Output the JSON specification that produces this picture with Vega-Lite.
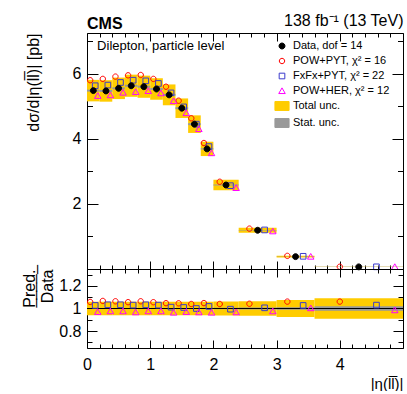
{
"$schema": "https://vega.github.io/schema/vega-lite/v6.json",
"padding": {"left": 21, "top": 12, "right": 0, "bottom": 0},
"config": {
  "font": "Liberation Sans",
  "view": {"stroke": null},
  "axis": {"domainColor": "black", "tickColor": "black", "labelColor": "black", "titleColor": "black", "grid": false, "labelFont": "Liberation Sans", "titleFont": "Liberation Sans", "labelFontSize": 16, "titleFontSize": 16, "titleFontWeight": "normal", "domainWidth": 1, "tickWidth": 1, "labelFlush": false, "labelOverlap": false},
  "legend": {"orient": "none", "legendX": 187, "legendY": 5, "padding": 0, "labelFont": "Liberation Sans", "labelFontSize": 11, "labelColor": "black", "rowPadding": 2, "labelOffset": 3, "symbolStrokeWidth": 1, "symbolSize": 200},
  "title": {"font": "Liberation Sans", "color": "black"}
},
"datasets": {
  "bins": [
    {"lo": 0, "hi": 0.2, "tlo": 5.15, "thi": 5.81, "slo": 5.45, "shi": 5.51, "rtlo": 0.94, "rthi": 1.06, "rslo": 0.995, "rshi": 1.005},
    {"lo": 0.2, "hi": 0.4, "tlo": 5.14, "thi": 5.8, "slo": 5.44, "shi": 5.5, "rtlo": 0.94, "rthi": 1.06, "rslo": 0.995, "rshi": 1.005},
    {"lo": 0.4, "hi": 0.6, "tlo": 5.22, "thi": 5.88, "slo": 5.52, "shi": 5.58, "rtlo": 0.94, "rthi": 1.06, "rslo": 0.995, "rshi": 1.005},
    {"lo": 0.6, "hi": 0.8, "tlo": 5.29, "thi": 5.97, "slo": 5.6, "shi": 5.66, "rtlo": 0.94, "rthi": 1.06, "rslo": 0.995, "rshi": 1.005},
    {"lo": 0.8, "hi": 1.0, "tlo": 5.26, "thi": 5.94, "slo": 5.57, "shi": 5.63, "rtlo": 0.94, "rthi": 1.06, "rslo": 0.995, "rshi": 1.005},
    {"lo": 1.0, "hi": 1.2, "tlo": 5.2, "thi": 5.86, "slo": 5.5, "shi": 5.56, "rtlo": 0.94, "rthi": 1.06, "rslo": 0.995, "rshi": 1.005},
    {"lo": 1.2, "hi": 1.4, "tlo": 5.03, "thi": 5.67, "slo": 5.32, "shi": 5.38, "rtlo": 0.94, "rthi": 1.06, "rslo": 0.995, "rshi": 1.005},
    {"lo": 1.4, "hi": 1.6, "tlo": 4.64, "thi": 5.24, "slo": 4.91, "shi": 4.97, "rtlo": 0.94, "rthi": 1.06, "rslo": 0.995, "rshi": 1.005},
    {"lo": 1.6, "hi": 1.8, "tlo": 4.18, "thi": 4.72, "slo": 4.42, "shi": 4.48, "rtlo": 0.94, "rthi": 1.06, "rslo": 0.995, "rshi": 1.005},
    {"lo": 1.8, "hi": 2.0, "tlo": 3.47, "thi": 3.91, "slo": 3.67, "shi": 3.71, "rtlo": 0.94, "rthi": 1.06, "rslo": 0.995, "rshi": 1.005},
    {"lo": 2.0, "hi": 2.4, "tlo": 2.42, "thi": 2.74, "slo": 2.565, "shi": 2.595, "rtlo": 0.937, "rthi": 1.063, "rslo": 0.994, "rshi": 1.006},
    {"lo": 2.4, "hi": 3.0, "tlo": 1.11, "thi": 1.27, "slo": 1.18, "shi": 1.2, "rtlo": 0.935, "rthi": 1.065, "rslo": 0.992, "rshi": 1.008},
    {"lo": 3.0, "hi": 3.6, "tlo": 0.351, "thi": 0.409, "slo": 0.3755, "shi": 0.3845, "rtlo": 0.925, "rthi": 1.075, "rslo": 0.988, "rshi": 1.012},
    {"lo": 3.6, "hi": 5.0, "tlo": 0.059, "thi": 0.071, "slo": 0.0637, "shi": 0.0663, "rtlo": 0.91, "rthi": 1.09, "rslo": 0.98, "rshi": 1.02}
  ],
  "meas": [
    {"series": "Data, dof = 14", "x": 0.1, "y": 5.48},
    {"series": "Data, dof = 14", "x": 0.3, "y": 5.47},
    {"series": "Data, dof = 14", "x": 0.5, "y": 5.55},
    {"series": "Data, dof = 14", "x": 0.7, "y": 5.63},
    {"series": "Data, dof = 14", "x": 0.9, "y": 5.6},
    {"series": "Data, dof = 14", "x": 1.1, "y": 5.53},
    {"series": "Data, dof = 14", "x": 1.3, "y": 5.35},
    {"series": "Data, dof = 14", "x": 1.5, "y": 4.94},
    {"series": "Data, dof = 14", "x": 1.7, "y": 4.45},
    {"series": "Data, dof = 14", "x": 1.9, "y": 3.69},
    {"series": "Data, dof = 14", "x": 2.2, "y": 2.58},
    {"series": "Data, dof = 14", "x": 2.7, "y": 1.19},
    {"series": "Data, dof = 14", "x": 3.3, "y": 0.38},
    {"series": "Data, dof = 14", "x": 4.3, "y": 0.065}
  ],
  "pred": [
    {"series": "POW+PYT, χ² = 16", "x": 0.05, "y": 5.8, "r": 1.058},
    {"series": "POW+PYT, χ² = 16", "x": 0.25, "y": 5.84, "r": 1.067},
    {"series": "POW+PYT, χ² = 16", "x": 0.45, "y": 5.91, "r": 1.064},
    {"series": "POW+PYT, χ² = 16", "x": 0.65, "y": 5.95, "r": 1.056},
    {"series": "POW+PYT, χ² = 16", "x": 0.85, "y": 5.96, "r": 1.064},
    {"series": "POW+PYT, χ² = 16", "x": 1.05, "y": 5.84, "r": 1.056},
    {"series": "POW+PYT, χ² = 16", "x": 1.25, "y": 5.6, "r": 1.047},
    {"series": "POW+PYT, χ² = 16", "x": 1.45, "y": 5.17, "r": 1.046},
    {"series": "POW+PYT, χ² = 16", "x": 1.65, "y": 4.63, "r": 1.04},
    {"series": "POW+PYT, χ² = 16", "x": 1.85, "y": 3.87, "r": 1.048},
    {"series": "POW+PYT, χ² = 16", "x": 2.1, "y": 2.68, "r": 1.04},
    {"series": "POW+PYT, χ² = 16", "x": 2.57, "y": 1.24, "r": 1.042},
    {"series": "POW+PYT, χ² = 16", "x": 3.17, "y": 0.403, "r": 1.061},
    {"series": "POW+PYT, χ² = 16", "x": 4.0, "y": 0.069, "r": 1.061},
    {"series": "FxFx+PYT, χ² = 22", "x": 0.13, "y": 5.63, "r": 1.027},
    {"series": "FxFx+PYT, χ² = 22", "x": 0.33, "y": 5.65, "r": 1.033},
    {"series": "FxFx+PYT, χ² = 22", "x": 0.53, "y": 5.73, "r": 1.033},
    {"series": "FxFx+PYT, χ² = 22", "x": 0.73, "y": 5.8, "r": 1.03},
    {"series": "FxFx+PYT, χ² = 22", "x": 0.93, "y": 5.78, "r": 1.033},
    {"series": "FxFx+PYT, χ² = 22", "x": 1.13, "y": 5.7, "r": 1.03},
    {"series": "FxFx+PYT, χ² = 22", "x": 1.33, "y": 5.41, "r": 1.012},
    {"series": "FxFx+PYT, χ² = 22", "x": 1.53, "y": 4.98, "r": 1.009},
    {"series": "FxFx+PYT, χ² = 22", "x": 1.73, "y": 4.45, "r": 1.0},
    {"series": "FxFx+PYT, χ² = 22", "x": 1.93, "y": 3.76, "r": 1.018},
    {"series": "FxFx+PYT, χ² = 22", "x": 2.27, "y": 2.56, "r": 0.994},
    {"series": "FxFx+PYT, χ² = 22", "x": 2.81, "y": 1.2, "r": 1.006},
    {"series": "FxFx+PYT, χ² = 22", "x": 3.42, "y": 0.39, "r": 1.027},
    {"series": "FxFx+PYT, χ² = 22", "x": 4.58, "y": 0.067, "r": 1.03},
    {"series": "POW+HER, χ² = 12", "x": 0.17, "y": 5.32, "r": 0.97},
    {"series": "POW+HER, χ² = 12", "x": 0.37, "y": 5.34, "r": 0.976},
    {"series": "POW+HER, χ² = 12", "x": 0.57, "y": 5.42, "r": 0.976},
    {"series": "POW+HER, χ² = 12", "x": 0.77, "y": 5.44, "r": 0.967},
    {"series": "POW+HER, χ² = 12", "x": 0.97, "y": 5.47, "r": 0.976},
    {"series": "POW+HER, χ² = 12", "x": 1.17, "y": 5.4, "r": 0.976},
    {"series": "POW+HER, χ² = 12", "x": 1.37, "y": 5.16, "r": 0.964},
    {"series": "POW+HER, χ² = 12", "x": 1.57, "y": 4.79, "r": 0.97},
    {"series": "POW+HER, χ² = 12", "x": 1.77, "y": 4.3, "r": 0.967},
    {"series": "POW+HER, χ² = 12", "x": 1.97, "y": 3.56, "r": 0.964},
    {"series": "POW+HER, χ² = 12", "x": 2.36, "y": 2.49, "r": 0.967},
    {"series": "POW+HER, χ² = 12", "x": 2.94, "y": 1.16, "r": 0.976},
    {"series": "POW+HER, χ² = 12", "x": 3.54, "y": 0.381, "r": 1.003},
    {"series": "POW+HER, χ² = 12", "x": 4.87, "y": 0.064, "r": 0.985}
  ],
  "notes": [{"t": "Dilepton, particle level", "x": 0.16, "y": 6.85}]
},
"spacing": 0,
"bounds": "flush",
"resolve": {"scale": {"fill": "independent", "stroke": "independent", "shape": "independent"}, "legend": {"fill": "independent", "stroke": "independent", "shape": "independent"}},
"vconcat": [
  {
    "width": 316,
    "height": 236,
    "title": {"text": "CMS", "anchor": "start", "frame": "group", "fontSize": 16, "fontWeight": "bold", "offset": 0, "dy": 19.5},
    "resolve": {"axis": {"x": "independent", "y": "independent"}},
    "layer": [
      {
        "data": {"name": "bins"},
        "mark": {"type": "rect"},
        "encoding": {
          "x": {"field": "lo", "type": "quantitative", "scale": {"domain": [0, 5], "nice": false, "zero": false},
                "axis": {"orient": "bottom", "values": [0,0.2,0.4,0.6,0.8,1,1.2,1.4,1.6,1.8,2,2.2,2.4,2.6,2.8,3,3.2,3.4,3.6,3.8,4,4.2,4.4,4.6,4.8,5], "labels": false, "title": null,
                         "tickSize": {"condition": {"test": "datum.value % 1 === 0", "value": -8}, "value": -4}}},
          "x2": {"field": "hi"},
          "y": {"field": "tlo", "type": "quantitative", "scale": {"domain": [0, 7.25], "nice": false, "zero": false},
                "axis": {"orient": "left", "values": [0,1,2,3,4,5,6,7], "labelExpr": "datum.value % 2 === 0 && datum.value > 0 ? format(datum.value, 'd') : ''",
                         "labelFontSize": {"condition": {"test": "datum.value % 2 === 0 && datum.value > 0", "value": 16}, "value": 0},
                         "tickSize": {"condition": {"test": "datum.value % 2 === 0", "value": -11}, "value": -5.5},
                         "labelPadding": 17, "title": "dσ/d|η(ll\u0305)| [pb]", "titleAnchor": "end", "titlePadding": 31}},
          "y2": {"field": "thi"},
          "fill": {"datum": "Total unc.", "type": "nominal", "title": null,
                   "scale": {"domain": ["Data, dof = 14", "POW+PYT, χ² = 16", "FxFx+PYT, χ² = 22", "POW+HER, χ² = 12", "Total unc.", "Stat. unc."],
                             "range": ["black", "transparent", "transparent", "transparent", "#ffcc00", "#999999"]}}
        }
      },
      {
        "data": {"name": "bins"},
        "mark": {"type": "rect"},
        "encoding": {
          "x": {"field": "lo", "type": "quantitative",
                "axis": {"orient": "top", "values": [0,0.2,0.4,0.6,0.8,1,1.2,1.4,1.6,1.8,2,2.2,2.4,2.6,2.8,3,3.2,3.4,3.6,3.8,4,4.2,4.4,4.6,4.8,5], "labels": false,
                         "title": "138 fb⁻¹ (13 TeV)", "titleAnchor": "end", "titlePadding": 4.5,
                         "tickSize": {"condition": {"test": "datum.value % 1 === 0", "value": -8}, "value": -4}}},
          "x2": {"field": "hi"},
          "y": {"field": "slo", "type": "quantitative",
                "axis": {"orient": "right", "values": [0,1,2,3,4,5,6,7], "labels": false, "title": null,
                         "tickSize": {"condition": {"test": "datum.value % 2 === 0", "value": -11}, "value": -5.5}}},
          "y2": {"field": "shi"},
          "fill": {"datum": "Stat. unc.", "type": "nominal", "title": null,
                   "scale": {"domain": ["Data, dof = 14", "POW+PYT, χ² = 16", "FxFx+PYT, χ² = 22", "POW+HER, χ² = 12", "Total unc.", "Stat. unc."],
                             "range": ["black", "transparent", "transparent", "transparent", "#ffcc00", "#999999"]}}
        }
      },
      {
        "data": {"name": "pred"},
        "mark": {"type": "point", "size": 200, "strokeWidth": 1, "opacity": 1},
        "encoding": {
          "x": {"field": "x", "type": "quantitative", "axis": null},
          "y": {"field": "y", "type": "quantitative", "axis": null},
          "fill": {"field": "series", "type": "nominal", "title": null,
                   "scale": {"domain": ["Data, dof = 14", "POW+PYT, χ² = 16", "FxFx+PYT, χ² = 22", "POW+HER, χ² = 12", "Total unc.", "Stat. unc."],
                             "range": ["black", "transparent", "transparent", "transparent", "#ffcc00", "#999999"]}},
          "stroke": {"field": "series", "type": "nominal", "title": null,
                   "scale": {"domain": ["Data, dof = 14", "POW+PYT, χ² = 16", "FxFx+PYT, χ² = 22", "POW+HER, χ² = 12", "Total unc.", "Stat. unc."],
                             "range": ["black", "#ff0000", "#3b3bcc", "#ff00ff", "#ffcc00", "#999999"]}},
          "shape": {"field": "series", "type": "nominal", "title": null,
                   "scale": {"domain": ["Data, dof = 14", "POW+PYT, χ² = 16", "FxFx+PYT, χ² = 22", "POW+HER, χ² = 12", "Total unc.", "Stat. unc."],
                             "range": ["M0.42,0A0.42,0.42,0,1,1,-0.42,0A0.42,0.42,0,1,1,0.42,0Z", "M0.38,0A0.38,0.38,0,1,1,-0.38,0A0.38,0.38,0,1,1,0.38,0Z", "M-0.4,-0.4L0.4,-0.4L0.4,0.4L-0.4,0.4Z", "M0,-0.44L0.46,0.36L-0.46,0.36Z", "M-1,-0.63L1,-0.63L1,0.63L-1,0.63Z", "M-1,-0.63L1,-0.63L1,0.63L-1,0.63Z"]}}
        }
      },
      {
        "data": {"name": "meas"},
        "mark": {"type": "point", "size": 200, "strokeWidth": 1, "opacity": 1},
        "encoding": {
          "x": {"field": "x", "type": "quantitative", "axis": null},
          "y": {"field": "y", "type": "quantitative", "axis": null},
          "fill": {"field": "series", "type": "nominal", "title": null,
                   "scale": {"domain": ["Data, dof = 14", "POW+PYT, χ² = 16", "FxFx+PYT, χ² = 22", "POW+HER, χ² = 12", "Total unc.", "Stat. unc."],
                             "range": ["black", "transparent", "transparent", "transparent", "#ffcc00", "#999999"]}},
          "stroke": {"field": "series", "type": "nominal", "title": null,
                   "scale": {"domain": ["Data, dof = 14", "POW+PYT, χ² = 16", "FxFx+PYT, χ² = 22", "POW+HER, χ² = 12", "Total unc.", "Stat. unc."],
                             "range": ["black", "#ff0000", "#3b3bcc", "#ff00ff", "#ffcc00", "#999999"]}},
          "shape": {"field": "series", "type": "nominal", "title": null,
                   "scale": {"domain": ["Data, dof = 14", "POW+PYT, χ² = 16", "FxFx+PYT, χ² = 22", "POW+HER, χ² = 12", "Total unc.", "Stat. unc."],
                             "range": ["M0.42,0A0.42,0.42,0,1,1,-0.42,0A0.42,0.42,0,1,1,0.42,0Z", "M0.38,0A0.38,0.38,0,1,1,-0.38,0A0.38,0.38,0,1,1,0.38,0Z", "M-0.4,-0.4L0.4,-0.4L0.4,0.4L-0.4,0.4Z", "M0,-0.44L0.46,0.36L-0.46,0.36Z", "M-1,-0.63L1,-0.63L1,0.63L-1,0.63Z", "M-1,-0.63L1,-0.63L1,0.63L-1,0.63Z"]}}
        }
      },
      {
        "data": {"name": "notes"},
        "mark": {"type": "text", "align": "left", "baseline": "middle", "fontSize": 13, "font": "Liberation Sans", "color": "black"},
        "encoding": {
          "x": {"field": "x", "type": "quantitative", "axis": null},
          "y": {"field": "y", "type": "quantitative", "axis": null},
          "text": {"field": "t"}
        }
      }
    ]
  },
  {
    "width": 316,
    "height": 79,
    "resolve": {"axis": {"x": "independent", "y": "independent"}},
    "layer": [
      {
        "data": {"name": "bins"},
        "mark": {"type": "rect", "color": "#ffcc00"},
        "encoding": {
          "x": {"field": "lo", "type": "quantitative", "scale": {"domain": [0, 5], "nice": false, "zero": false},
                "axis": {"orient": "bottom", "values": [0,0.2,0.4,0.6,0.8,1,1.2,1.4,1.6,1.8,2,2.2,2.4,2.6,2.8,3,3.2,3.4,3.6,3.8,4,4.2,4.4,4.6,4.8,5],
                         "labelExpr": "datum.value % 1 === 0 && datum.value < 5 ? format(datum.value, 'd') : ''",
                         "labelFontSize": {"condition": {"test": "datum.value % 1 === 0 && datum.value < 5", "value": 16}, "value": 0},
                         "tickSize": {"condition": {"test": "datum.value % 1 === 0", "value": -8}, "value": -4},
                         "labelPadding": 16, "title": "|η(ll\u0305)|", "titleFontSize": 15, "titleAnchor": "end", "titlePadding": 4}},
          "x2": {"field": "hi"},
          "y": {"field": "rtlo", "type": "quantitative", "scale": {"domain": [0.65, 1.35], "nice": false, "zero": false},
                "axis": {"orient": "left", "values": [0.7,0.8,0.9,1,1.1,1.2,1.3],
                         "labelExpr": "round(datum.value*10) % 2 === 0 ? format(datum.value, '~g') : ''",
                         "labelFontSize": {"condition": {"test": "round(datum.value*10) % 2 === 0", "value": 16}, "value": 0},
                         "tickSize": {"condition": {"test": "round(datum.value*10) % 2 === 0", "value": -10}, "value": -5},
                         "labelPadding": 16, "title": ["P\u0332r\u0332e\u0332d\u0332.\u0332", "Data"], "titleAnchor": "end", "titlePadding": 3}},
          "y2": {"field": "rthi"}
        }
      },
      {
        "data": {"name": "bins"},
        "mark": {"type": "rect", "color": "#999999"},
        "encoding": {
          "x": {"field": "lo", "type": "quantitative",
                "axis": {"orient": "top", "values": [0,0.2,0.4,0.6,0.8,1,1.2,1.4,1.6,1.8,2,2.2,2.4,2.6,2.8,3,3.2,3.4,3.6,3.8,4,4.2,4.4,4.6,4.8,5], "labels": false, "title": null,
                         "tickSize": {"condition": {"test": "datum.value % 1 === 0", "value": -8}, "value": -4}}},
          "x2": {"field": "hi"},
          "y": {"field": "rslo", "type": "quantitative",
                "axis": {"orient": "right", "values": [0.7,0.8,0.9,1,1.1,1.2,1.3], "labels": false, "title": null,
                         "tickSize": {"condition": {"test": "round(datum.value*10) % 2 === 0", "value": -10}, "value": -5}}},
          "y2": {"field": "rshi"}
        }
      },
      {
        "data": {"name": "bins"},
        "mark": {"type": "rule", "color": "black", "strokeWidth": 1},
        "encoding": {
          "y": {"datum": 1, "type": "quantitative", "axis": null}
        }
      },
      {
        "data": {"name": "pred"},
        "mark": {"type": "point", "size": 200, "strokeWidth": 1, "opacity": 1},
        "encoding": {
          "x": {"field": "x", "type": "quantitative", "axis": null},
          "y": {"field": "r", "type": "quantitative", "axis": null},
          "fill": {"field": "series", "type": "nominal", "legend": null,
                   "scale": {"domain": ["Data, dof = 14", "POW+PYT, χ² = 16", "FxFx+PYT, χ² = 22", "POW+HER, χ² = 12", "Total unc.", "Stat. unc."],
                             "range": ["black", "transparent", "transparent", "transparent", "#ffcc00", "#999999"]}},
          "stroke": {"field": "series", "type": "nominal", "legend": null,
                   "scale": {"domain": ["Data, dof = 14", "POW+PYT, χ² = 16", "FxFx+PYT, χ² = 22", "POW+HER, χ² = 12", "Total unc.", "Stat. unc."],
                             "range": ["black", "#ff0000", "#3b3bcc", "#ff00ff", "#ffcc00", "#999999"]}},
          "shape": {"field": "series", "type": "nominal", "legend": null,
                   "scale": {"domain": ["Data, dof = 14", "POW+PYT, χ² = 16", "FxFx+PYT, χ² = 22", "POW+HER, χ² = 12", "Total unc.", "Stat. unc."],
                             "range": ["M0.42,0A0.42,0.42,0,1,1,-0.42,0A0.42,0.42,0,1,1,0.42,0Z", "M0.38,0A0.38,0.38,0,1,1,-0.38,0A0.38,0.38,0,1,1,0.38,0Z", "M-0.4,-0.4L0.4,-0.4L0.4,0.4L-0.4,0.4Z", "M0,-0.44L0.46,0.36L-0.46,0.36Z", "M-1,-0.63L1,-0.63L1,0.63L-1,0.63Z", "M-1,-0.63L1,-0.63L1,0.63L-1,0.63Z"]}}
        }
      }
    ]
  }
]
}
